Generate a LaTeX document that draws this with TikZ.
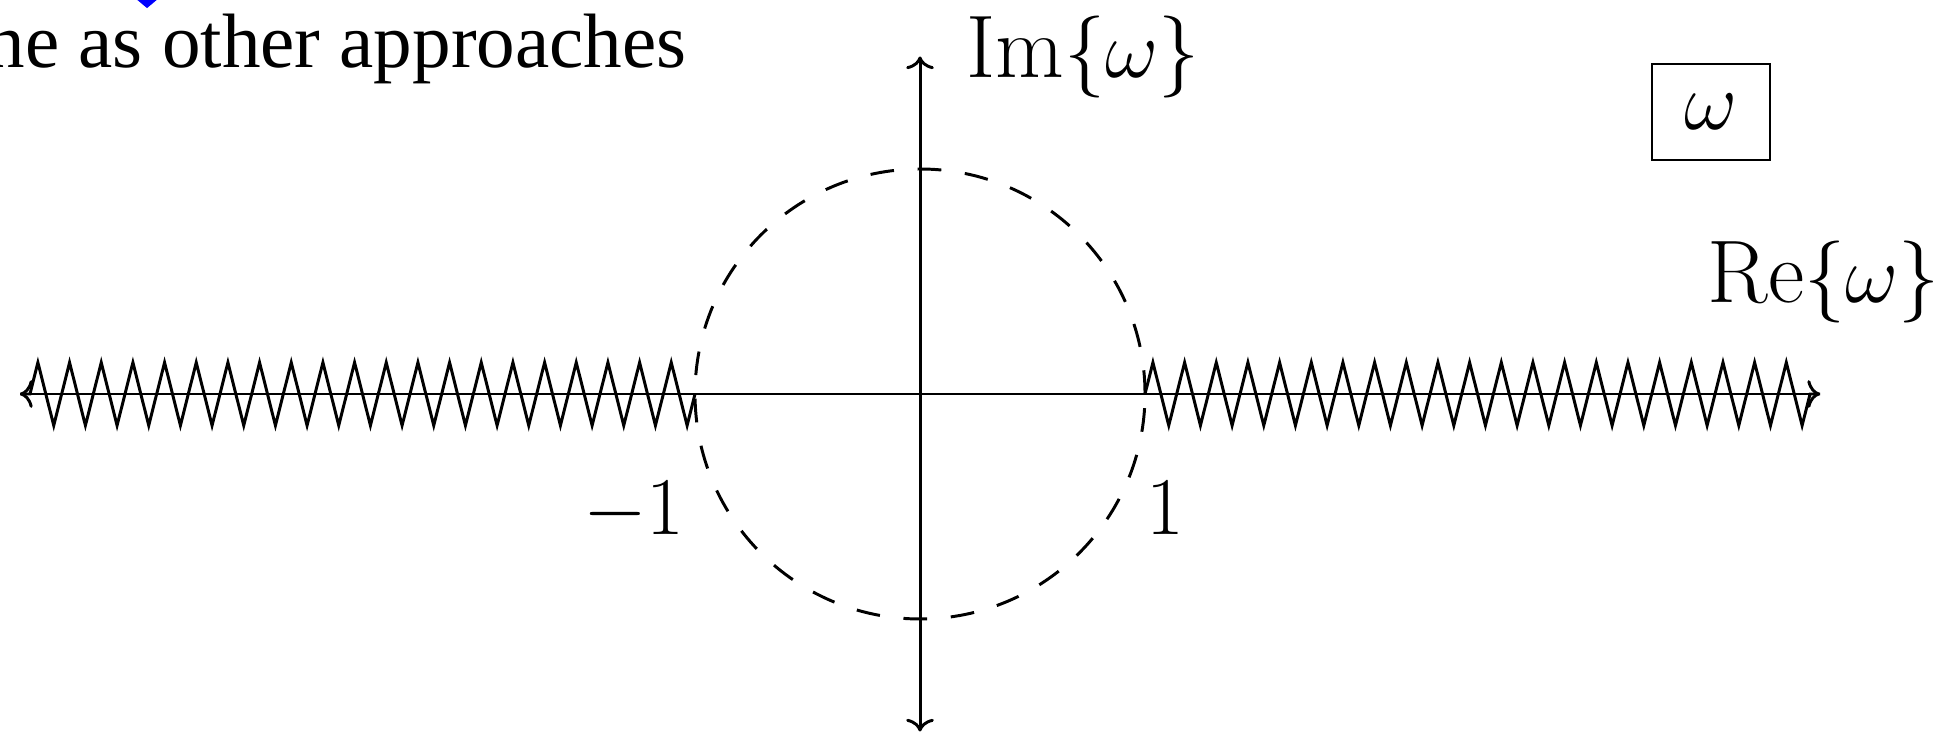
\documentclass[tikz,border=0pt]{standalone}
\usepackage{fontspec}
\newfontfamily\slidefont{Liberation Serif}
\usetikzlibrary{decorations.pathmorphing, arrows.meta}
\begin{document}
\begin{tikzpicture}[x=2cm, y=2cm, line width=0.75pt, >={To[length=3.2pt,width=7pt]},
  cut/.style={decorate, decoration={zigzag, segment length=0.2815cm, amplitude=0.28cm}},
  lbl/.style={inner sep=0pt, font=\fontsize{22.5}{27}\selectfont}]
\useasboundingbox (-4.089,-1.498) rectangle (4.5555,1.751);
% slide text left over above the plot
\node[anchor=base east, inner sep=0pt, font=\slidefont\fontsize{19.5}{23}\selectfont] (slide) at (-1.031,1.449) {ne as other approaches};
\fill[blue] (-3.489,1.76) -- (-3.382,1.76) -- (-3.4355,1.715) -- cycle;
% axes
\coordinate (O) at (0,0);
\coordinate (W) at (-4,0);
\coordinate (E) at (4,0);
\coordinate (S) at (0,-1.5);
\coordinate (N) at (0,1.5);
\coordinate (m1) at (-1,0);
\coordinate (p1) at (1,0);
\draw[<->] (W) -- (E);
\draw[<->] (S) -- (N);
% branch cuts
\draw[cut] (m1) -- (W);
\draw[cut] (p1) -- (E);
% unit circle
\draw[dash pattern=on 6pt off 6pt] (O) circle (1);
% labels
\node[lbl, anchor=base west] (im) at (0.2,1.4045) {Im$\{\omega\}$};
\node[lbl, anchor=base west] (re) at (3.4935,0.4045) {Re$\{\omega\}$};
\node[lbl, anchor=base east] (lm1) at (-1.04,-0.6265) {$-1$};
\node[lbl, anchor=base west] (lp1) at (1.0,-0.6265) {$1$};
\node[draw, line width=0.6pt, font=\fontsize{22.5}{27}\selectfont, minimum width=1.05cm, minimum height=0.85cm] (plane) at (3.5155,1.2535) {$\omega$};
\end{tikzpicture}
\end{document}
